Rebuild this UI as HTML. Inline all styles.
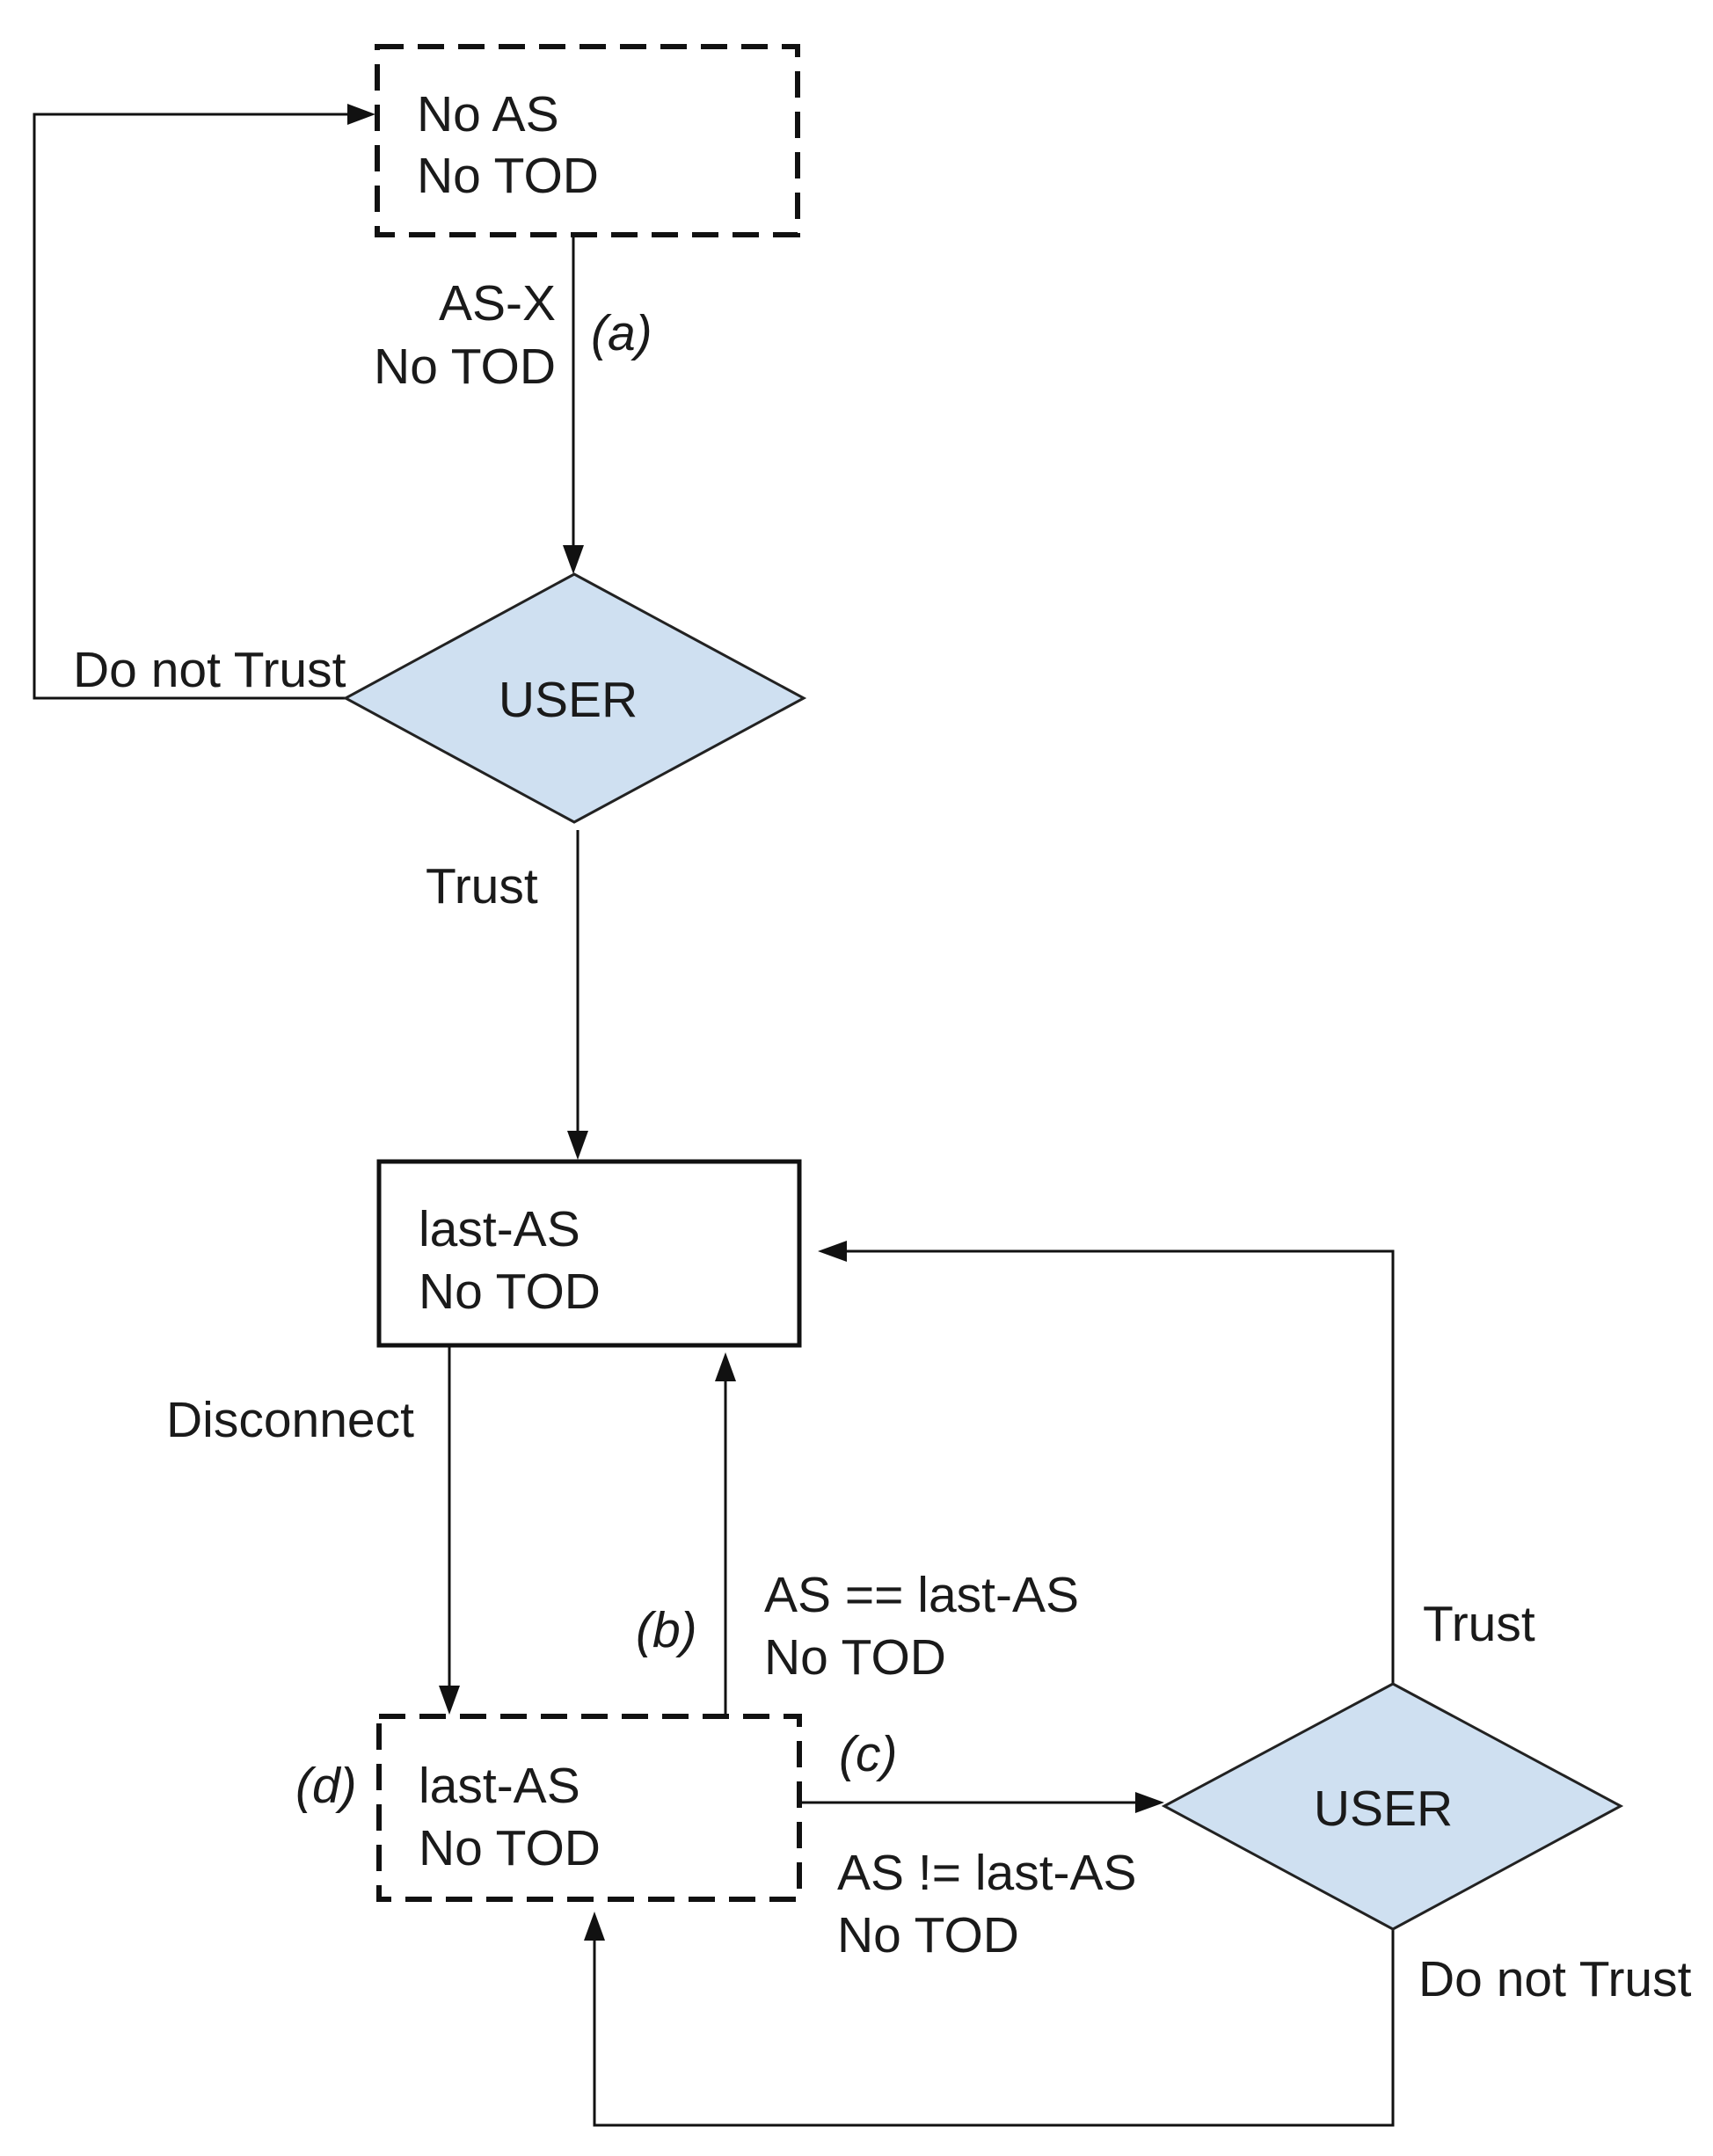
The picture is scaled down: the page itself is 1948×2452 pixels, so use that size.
<!DOCTYPE html>
<html><head><meta charset="utf-8"><style>html,body{margin:0;padding:0;background:#fff}svg{display:block}</style></head>
<body>
<svg width="1948" height="2452" viewBox="0 0 1948 2452" xmlns="http://www.w3.org/2000/svg" font-family="Liberation Sans, Arial, sans-serif" font-size="57" fill="#1a1a1a">
<g stroke="#111" stroke-width="3" fill="none">
<rect x="429" y="53" width="478" height="214" stroke-width="6" stroke-dasharray="30,16"/>
<polyline points="393,794 39,794 39,130 400,130"/>
<line x1="652" y1="268" x2="652" y2="625"/>
<line x1="657" y1="944" x2="657" y2="1292"/>
<rect x="431" y="1321" width="478" height="209" stroke-width="5"/>
<line x1="511" y1="1531" x2="511" y2="1920"/>
<line x1="825" y1="1951" x2="825" y2="1570"/>
<rect x="431" y="1952" width="478" height="208" stroke-width="6" stroke-dasharray="30,16"/>
<line x1="911" y1="2050" x2="1295" y2="2050"/>
<polyline points="1584,1915 1584,1423 960,1423"/>
<polyline points="1584,2194 1584,2417 676,2417 676,2205"/>
</g>
<g fill="#111">
<polygon points="427,130 395,118 395,142"/>
<polygon points="652,653 640,620 664,620"/>
<polygon points="657,1319 645,1286 669,1286"/>
<polygon points="511,1950 499,1917 523,1917"/>
<polygon points="825,1538 813,1571 837,1571"/>
<polygon points="1324,2050 1291,2038 1291,2062"/>
<polygon points="930,1423 963,1411 963,1435"/>
<polygon points="676,2174 664,2207 688,2207"/>
</g>
<polygon points="653,653 914,794 653,935 393,794" fill="#cfe0f1" stroke="#222" stroke-width="3"/>
<polygon points="1584,1915 1843,2054 1584,2194 1324,2054" fill="#cfe0f1" stroke="#222" stroke-width="3"/>
<text x="474" y="149">No AS</text>
<text x="474" y="219">No TOD</text>
<text x="632" y="364" text-anchor="end">AS-X</text>
<text x="632" y="436" text-anchor="end">No TOD</text>
<text x="672" y="398" font-style="italic">(a)</text>
<text x="83" y="781">Do not Trust</text>
<text x="646" y="815" text-anchor="middle">USER</text>
<text x="484" y="1027">Trust</text>
<text x="476" y="1417">last-AS</text>
<text x="476" y="1488">No TOD</text>
<text x="189" y="1634">Disconnect</text>
<text x="723" y="1873" font-style="italic">(b)</text>
<text x="869" y="1833">AS == last-AS</text>
<text x="869" y="1904">No TOD</text>
<text x="336" y="2050" font-style="italic">(d)</text>
<text x="476" y="2050">last-AS</text>
<text x="476" y="2121">No TOD</text>
<text x="954" y="2014" font-style="italic">(c)</text>
<text x="952" y="2149">AS != last-AS</text>
<text x="952" y="2220">No TOD</text>
<text x="1573" y="2076" text-anchor="middle">USER</text>
<text x="1618" y="1866">Trust</text>
<text x="1613" y="2270">Do not Trust</text>
</svg>
</body></html>
